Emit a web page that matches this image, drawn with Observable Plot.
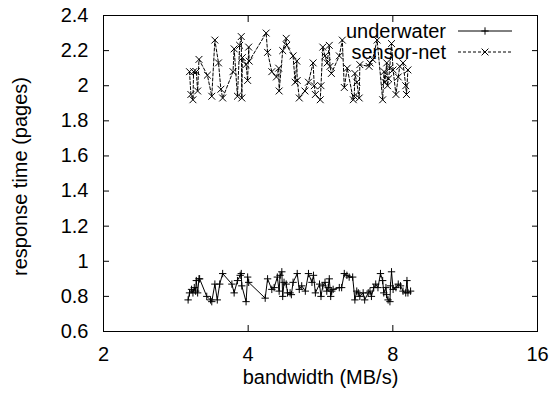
<!DOCTYPE html>
<html><head><meta charset="utf-8">
<script src="https://cdn.jsdelivr.net/npm/d3@7"></script>
<script src="https://cdn.jsdelivr.net/npm/@observablehq/plot@0.6"></script>
<style>
body{margin:0;background:#fff;}
svg{display:block;font-family:"Liberation Sans",Arial,Helvetica,sans-serif;}
</style>
</head><body><div id="chart"></div>
<script>
const seriesNames = ["underwater", "sensor-net"];
const xLabel = "bandwidth (MB/s)";
const yLabel = "response time (pages)";
const xTicks = [2, 4, 8, 16];
const yTicks = [0.6, 0.8, 1, 1.2, 1.4, 1.6, 1.8, 2, 2.2, 2.4];

const underwaterX = [3.00,3.02,3.05,3.07,3.09,3.11,3.12,3.14,3.16,3.17,
  3.28,3.34,3.36,3.41,3.45,3.49,3.54,3.70,3.74,3.80,
  3.85,3.87,3.88,3.96,3.99,4.01,4.34,4.39,4.48,4.53,
  4.60,4.64,4.66,4.70,4.72,4.75,4.80,4.83,4.89,4.92,
  4.96,5.06,5.11,5.17,5.26,5.34,5.43,5.47,5.52,5.63,
  5.67,5.72,5.78,5.83,5.87,5.90,5.94,5.97,6.01,6.19,
  6.26,6.34,6.42,6.49,6.60,6.67,6.73,6.78,6.83,6.94,
  6.99,7.11,7.17,7.22,7.30,7.37,7.45,7.54,7.62,7.66,
  7.74,7.76,7.82,7.89,7.91,7.95,8.01,8.12,8.21,8.30,
  8.40,8.51,8.56,8.60,8.71];
const underwaterY = [0.78,0.82,0.84,0.82,0.85,0.83,0.89,0.82,0.90,0.90,
  0.80,0.78,0.77,0.87,0.78,0.87,0.93,0.87,0.82,0.89,
  0.92,0.93,0.86,0.77,0.91,0.88,0.79,0.90,0.84,0.85,
  0.91,0.83,0.92,0.94,0.80,0.88,0.87,0.82,0.82,0.81,
  0.88,0.93,0.84,0.86,0.83,0.93,0.88,0.92,0.82,0.87,
  0.80,0.86,0.88,0.83,0.85,0.90,0.80,0.83,0.84,0.85,
  0.85,0.93,0.92,0.91,0.91,0.78,0.83,0.82,0.80,0.82,
  0.78,0.82,0.83,0.80,0.85,0.87,0.85,0.93,0.89,0.82,
  0.85,0.81,0.78,0.77,0.86,0.94,0.84,0.85,0.87,0.86,
  0.83,0.82,0.89,0.82,0.83];

const sensorX = [3.02,3.04,3.07,3.08,3.12,3.14,3.16,3.29,3.36,3.41,
  3.47,3.51,3.54,3.72,3.74,3.80,3.84,3.87,3.88,3.89,
  3.96,3.99,4.01,4.02,4.36,4.39,4.48,4.58,4.63,4.64,
  4.72,4.80,4.81,4.96,5.01,5.05,5.06,5.11,5.25,5.34,
  5.46,5.49,5.52,5.65,5.67,5.72,5.78,5.84,5.90,5.92,
  5.96,6.19,6.28,6.34,6.43,6.62,6.65,6.67,6.73,6.81,
  6.83,7.14,7.17,7.26,7.42,7.62,7.67,7.70,7.77,7.80,
  7.84,7.88,7.95,8.01,8.12,8.21,8.27,8.40,8.51,8.54,
  8.60];
const sensorY = [2.08,1.95,1.92,2.08,2.08,1.97,2.15,2.06,1.94,2.26,
  2.13,1.98,1.93,2.08,2.21,1.94,2.23,2.28,1.93,2.16,
  2.12,2.03,2.22,2.14,2.30,2.19,2.08,2.05,2.10,1.97,
  2.20,2.27,2.23,2.17,2.02,2.14,2.03,1.93,1.97,2.02,
  2.13,2.00,1.95,1.92,2.00,2.22,2.17,2.13,2.23,2.11,
  2.07,2.17,2.26,1.99,2.10,1.92,1.94,2.07,2.02,1.93,
  2.12,2.11,2.13,2.15,2.26,1.92,2.08,2.02,2.13,2.00,
  2.04,2.10,2.24,2.09,1.95,2.05,2.11,2.13,2.00,1.95,
  2.09];

const uw = underwaterX.map((x, i) => ({x, y: underwaterY[i]}));
const sn = sensorX.map((x, i) => ({x, y: sensorY[i]}));

const W = 555, H = 394, mL = 103, mR = 18, mT = 15, mB = 63;
const FONT = '"Liberation Sans",Arial,Helvetica,sans-serif';

const chart = Plot.plot({
  width: W, height: H,
  marginLeft: mL, marginRight: mR, marginTop: mT, marginBottom: mB,
  style: {fontSize: "20px", fontFamily: FONT, background: "white", color: "black", overflow: "visible"},
  x: {type: "log", base: 2, domain: [2, 16]},
  y: {domain: [0.6, 2.4]},
  marks: [
    Plot.axisX({ticks: xTicks, tickSize: -6, tickPadding: 21, tickFormat: d => String(d), label: null, fontSize: 20}),
    Plot.axisX({anchor: "top", ticks: xTicks, tickSize: -6, tickFormat: () => "", label: null}),
    Plot.axisY({ticks: yTicks, tickSize: -6, tickPadding: 21, tickFormat: d => String(d), label: null, fontSize: 20}),
    Plot.axisY({anchor: "right", ticks: yTicks, tickSize: -6, tickFormat: () => "", label: null}),
    Plot.frame({stroke: "black", strokeWidth: 1}),
    Plot.line(uw, {x: "x", y: "y", stroke: "black", strokeWidth: 1}),
    Plot.dot(uw, {x: "x", y: "y", symbol: "plus", r: 2.5, stroke: "black", strokeWidth: 1}),
    Plot.line(sn, {x: "x", y: "y", stroke: "black", strokeWidth: 1, strokeDasharray: "3,2"}),
    Plot.dot(sn, {x: "x", y: "y", symbol: "times", r: 3.2, stroke: "black", strokeWidth: 1}),
    Plot.text([xLabel], {text: d => d, frameAnchor: "bottom", dy: 52, fontSize: 20}),
    Plot.text([yLabel], {text: d => d, frameAnchor: "left", textAnchor: "middle", rotate: -90, dx: -83, dy: 3, fontSize: 20})
  ]
});

// legend (gnuplot-style key, top right inside frame)
const svg = d3.select(chart);
const R = W - mR;
const g = svg.append("g").attr("font-family", FONT).attr("font-size", 20);
const rows = [
  {name: seriesNames[0], dash: null, sym: d3.symbolPlus, r: 2.5},
  {name: seriesNames[1], dash: "3,2", sym: d3.symbolTimes, r: 3.2}
];
rows.forEach((row, i) => {
  const cy = mT + 16 + i * 21;
  g.append("text").attr("x", R - 91).attr("y", cy).attr("dy", "0.35em")
    .attr("text-anchor", "end").attr("fill", "black").text(row.name);
  g.append("line").attr("x1", R - 79).attr("x2", R - 25).attr("y1", cy).attr("y2", cy)
    .attr("stroke", "black").attr("stroke-width", 1).attr("stroke-dasharray", row.dash);
  g.append("path").attr("transform", `translate(${R - 52},${cy})`)
    .attr("d", d3.symbol(row.sym, Math.PI * row.r * row.r)())
    .attr("fill", "none").attr("stroke", "black").attr("stroke-width", 1);
});

document.getElementById("chart").appendChild(chart);
</script>
</body></html>
